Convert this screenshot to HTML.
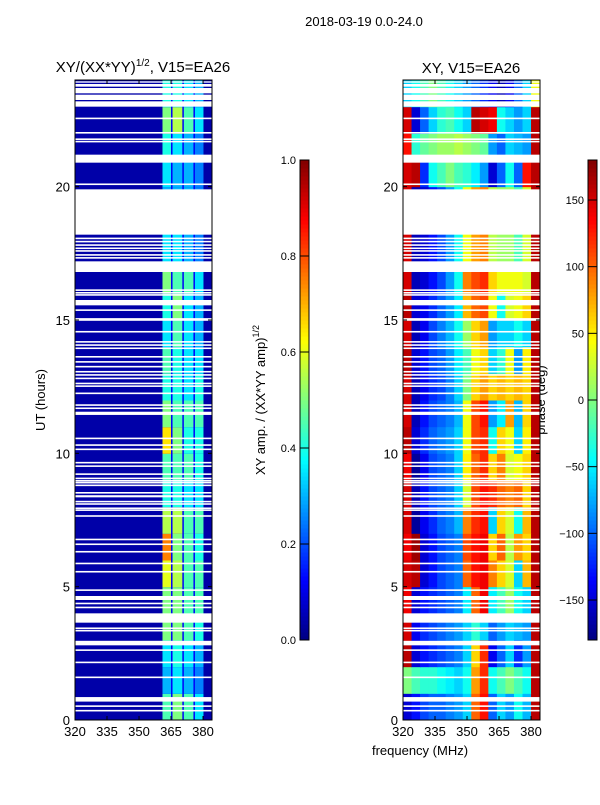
<!DOCTYPE html>
<html><head><meta charset="utf-8">
<style>
body{margin:0;background:#fff;}
svg text{font-family:"Liberation Sans",sans-serif;fill:#000;}
</style></head>
<body>
<svg id="fig" width="600" height="800" viewBox="0 0 600 800" xmlns="http://www.w3.org/2000/svg">
<text x="364" y="26" font-size="13" text-anchor="middle">2018-03-19 0.0-24.0</text>
<text x="143" y="72" font-size="15" text-anchor="middle">XY/(XX*YY)<tspan font-size="10" dy="-6">1/2</tspan><tspan dy="6">, V15=EA26</tspan></text>
<text x="471" y="73" font-size="15" text-anchor="middle">XY, V15=EA26</text>
<text x="420" y="755" font-size="13" text-anchor="middle">frequency (MHz)</text>
<text transform="translate(45,400) rotate(-90)" font-size="13" text-anchor="middle">UT (hours)</text>
<text transform="translate(265,400) rotate(-90)" font-size="13" text-anchor="middle">XY amp. / (XX*YY amp)<tspan font-size="9" dy="-6">1/2</tspan></text>
<text transform="translate(545,400) rotate(-90)" font-size="13" text-anchor="middle">phase (deg)</text>
<g id="layer"></g>
</svg>
<script>
// ---- data ----
const gaps = [[23.0,23.2],[23.25,23.45],[23.5,23.7],[23.75,23.85],[23.9,23.95],
[22.53,22.59],[21.99,22.05],[21.75,21.81],[21.66,21.72],[20.9,21.2],[20.06,20.12],[18.2,19.9],
[18.03,18.09],[17.91,17.97],[17.78,17.84],[17.66,17.72],[17.56,17.62],[17.41,17.47],[17.3,17.36],[16.8,17.2],
[16.09,16.15],[15.99,16.05],[15.91,15.97],[15.55,15.75],[15.34,15.4],[14.97,15.07],[14.53,14.59],[14.15,14.21],
[14.03,14.09],[13.91,13.97],[13.59,13.65],[13.4,13.46],[13.22,13.28],[13.03,13.09],[12.91,12.97],[12.78,12.84],
[12.59,12.65],[12.49,12.55],[12.22,12.28],[11.78,11.84],[11.66,11.72],[11.44,11.56],[10.53,10.59],[10.28,10.34],
[10.12,10.18],[9.62,9.68],[9.49,9.55],[9.19,9.25],[9.03,9.09],[8.94,9.0],[8.87,8.93],[8.77,8.83],[8.49,8.55],
[8.35,8.43],[8.16,8.22],[8.07,8.13],[7.91,7.97],[7.84,7.9],[7.62,7.68],[6.74,6.8],[6.56,6.62],[6.28,6.34],
[5.84,5.9],[5.53,5.59],[4.84,4.9],[4.5,4.65],[4.34,4.4],[4.19,4.25],[3.65,4.0],[3.41,3.47],[3.32,3.38],
[2.8,2.97],[2.59,2.65],[2.13,2.19],[1.57,1.63],[0.69,0.86],[0.49,0.55],[0.32,0.38]];
const ampBackground = 0.04;
const ampStripeEdges = [[361,365],[365.7,370.3],[371,375.5],[376.2,380.2]];
const ampDarkLineValue = 0.12;
const ampValues = [
[0.45,0.5,0.45,0.35],[0.3,0.35,0.3,0.25],[0.35,0.4,0.35,0.3],[0.5,0.5,0.45,0.4],
[0.5,0.5,0.45,0.45],[0.6,0.55,0.45,0.45],[0.75,0.5,0.45,0.4],[0.55,0.55,0.45,0.45],
[0.4,0.4,0.35,0.35],[0.45,0.45,0.45,0.4],[0.65,0.5,0.4,0.4],[0.5,0.45,0.45,0.45],
[0.4,0.4,0.35,0.4],[0.45,0.4,0.35,0.35],[0.35,0.45,0.35,0.3],[0.4,0.5,0.35,0.3],
[0.5,0.45,0.45,0.35],[0.35,0.35,0.3,0.25],[0.35,0.35,0.3,0.25],[0.3,0.3,0.3,0.25],
[0.35,0.3,0.3,0.25],[0.4,0.35,0.3,0.25],[0.5,0.55,0.45,0.35],[0.4,0.4,0.35,0.3]];
const phaseFreqs = [320,324,328,332,336,340,344,348,352,356,360,364,368,372,376,380];
const phaseValues = [
[-150,-130,-110,-100,-100,-90,-80,-60,100,130,-100,-60,-80,-40,-70,160],
[0,-20,-30,-30,-40,-50,-60,-40,80,120,-40,-20,0,-20,-40,160],
[160,-150,-130,-120,-110,-100,-90,-60,60,120,-140,-100,-60,-120,-80,160],
[150,-140,-120,-110,-100,-90,-80,-60,-30,-60,-100,-80,-60,-70,-80,160],
[140,-150,-130,-120,-110,-100,-90,-50,100,140,-50,-20,10,-40,-60,160],
[150,160,-150,-130,-110,-100,-90,100,130,140,90,60,30,-60,70,160],
[140,170,-150,-130,-110,-100,-90,110,130,140,60,100,20,80,60,160],
[150,-170,-140,-120,-100,-90,-70,90,120,130,-60,60,30,-40,70,160],
[150,-160,-130,-110,-100,-90,-60,30,110,130,120,100,90,100,60,160],
[140,-170,-140,-110,-100,-90,-60,50,100,120,60,90,30,40,60,160],
[160,-150,-120,-100,-90,-80,-60,40,110,120,-40,60,40,-60,50,160],
[150,-160,-130,-110,-100,-90,-70,40,110,130,-80,-50,80,-70,60,160],
[150,-160,-140,-120,-110,-90,-60,0,60,80,60,70,60,70,60,160],
[160,-150,-130,-110,-100,-80,-50,-20,40,60,-60,-30,40,-80,50,160],
[150,-160,-140,-110,-90,-70,-40,10,60,80,-80,-60,-60,-40,-60,160],
[160,-150,-140,-120,-100,-80,-50,70,100,110,40,-40,30,40,60,160],
[150,-160,-150,-130,-110,-80,-40,90,110,120,60,40,40,40,30,160],
[150,-160,-150,-130,-110,-80,-40,40,80,90,20,10,10,-20,30,160],
[150,-160,-150,-130,-110,-80,-40,40,80,90,20,10,10,-20,30,160],
[150,-160,-150,-130,-110,-80,-40,40,80,90,20,10,10,-20,30,160],
[150,160,-120,-40,-20,0,-20,-30,-50,-80,-150,-100,-40,-100,130,160],
[130,-30,-10,0,10,10,20,10,0,-10,-80,-100,-60,-70,-80,160],
[150,-150,-100,-60,-30,-20,-40,-60,160,150,140,-40,-60,-80,-60,160],
[-60,-40,-20,0,-20,-40,-60,-80,-100,-120,-140,-160,-140,-100,-60,40]];
const xTicks = [320,335,350,365,380];
const yTicks = [0,5,10,15,20];
const ampTicks = [0.0,0.2,0.4,0.6,0.8,1.0];
const phaseTicks = [-150,-100,-50,0,50,100,150];

// ---- helpers ----
const NS="http://www.w3.org/2000/svg";
const layer=document.getElementById('layer');
function jet(v){v=Math.max(0,Math.min(1,v));
 const r=Math.max(0,Math.min(1,1.5-Math.abs(4*v-3)));
 const g=Math.max(0,Math.min(1,1.5-Math.abs(4*v-2)));
 const b=Math.max(0,Math.min(1,1.5-Math.abs(4*v-1)));
 return `rgb(${Math.round(r*255)},${Math.round(g*255)},${Math.round(b*255)})`;}
function mk(tag,attrs,parent){const e=document.createElementNS(NS,tag);for(const k in attrs)e.setAttribute(k,attrs[k]);(parent||layer).appendChild(e);return e;}
const T0=80,T1=720,FMIN=320,FMAX=384.2;
function yS(h){return T1-(h/24)*(T1-T0);}
function xS(f,x0){return x0+(f-FMIN)/(FMAX-FMIN)*137;}

function panel(x0,name){
 const g=mk('g',{});
 
 
 return g;}

// left amplitude panel
const L=75,R=403;
const gl=panel(L,'amplitude-heatmap');
const bg=mk('rect',{x:L,y:T0,width:137,height:T1-T0,fill:jet(ampBackground)},gl);


for(let h=0;h<24;h++){
 const dl=mk('rect',{x:xS(ampStripeEdges[0][0],L),y:yS(h+1),width:xS(ampStripeEdges[3][1],L)-xS(ampStripeEdges[0][0],L),height:yS(h)-yS(h+1)+0.5,fill:jet(ampDarkLineValue)},gl);
 
 
 for(let s=0;s<4;s++){
  const [a,b]=ampStripeEdges[s];
  const c=mk('rect',{x:xS(a,L),y:yS(h+1),width:xS(b,L)-xS(a,L),height:yS(h)-yS(h+1)+0.5,fill:jet(ampValues[h][s])},gl);
  
  
 }}
// right phase panel
const gr=panel(R,'phase-heatmap');
for(let h=0;h<24;h++){for(let c=0;c<phaseFreqs.length;c++){
 const f0=phaseFreqs[c],f1=c+1<phaseFreqs.length?phaseFreqs[c+1]:FMAX;
 const e=mk('rect',{x:xS(f0,R),y:yS(h+1),width:xS(f1,R)-xS(f0,R)+0.5,height:yS(h)-yS(h+1)+0.5,fill:jet((phaseValues[h][c]+180)/360)},gr);
 
 
}}
// gaps
for(const x0 of [L,R]){for(const [a,b] of gaps){
 const e=mk('rect',{x:x0,y:yS(b),width:137,height:Math.max(1.2,yS(a)-yS(b)),fill:'#fff'});
 
 
}}
// axes
for(const x0 of [L,R]){
 const fr=mk('rect',{x:x0,y:T0,width:137,height:T1-T0,fill:'none',stroke:'#000','stroke-width':1});
 
 
 for(const t of xTicks){const x=xS(t,x0);
  mk('line',{x1:x,x2:x,y1:T1,y2:T1-4,stroke:'#000'});mk('line',{x1:x,x2:x,y1:T0,y2:T0+4,stroke:'#000'});
  const tx=mk('text',{x:x,y:T1+16,'font-size':13,'text-anchor':'middle'});tx.textContent=t;
  
  }
 for(const t of yTicks){const y=yS(t);
  mk('line',{x1:x0,x2:x0+4,y1:y,y2:y,stroke:'#000'});mk('line',{x1:x0+137,x2:x0+133,y1:y,y2:y,stroke:'#000'});
  const ty=mk('text',{x:x0-5,y:y+5,'font-size':13,'text-anchor':'end'});ty.textContent=t;
  
  }
}
// colorbars
function colorbar(x,ticks,vmin,vmax,name){
 const g=mk('g',{});
 
 
 const N=120;for(let i=0;i<N;i++){const y=640-(i+1)*4;mk('rect',{x:x,y:y,width:9,height:4.5,fill:jet((i+0.5)/N)},g);}
 mk('rect',{x:x,y:160,width:9,height:480,fill:'none',stroke:'#000'},g);
 for(const t of ticks){const y=640-(t-vmin)/(vmax-vmin)*480;
  mk('line',{x1:x,x2:x+9,y1:y,y2:y,stroke:'#000'},g);
  const tx=mk('text',{x:x-4,y:y+4,'font-size':11,'text-anchor':'end'},g);
  tx.textContent=(vmax===1?t.toFixed(1):(t<0?'\u2212'+(-t):t));
  
  }
}
colorbar(300,ampTicks,0,1,'amp-colorbar');
colorbar(588,phaseTicks,-180,180,'phase-colorbar');
</script>
</body></html>
